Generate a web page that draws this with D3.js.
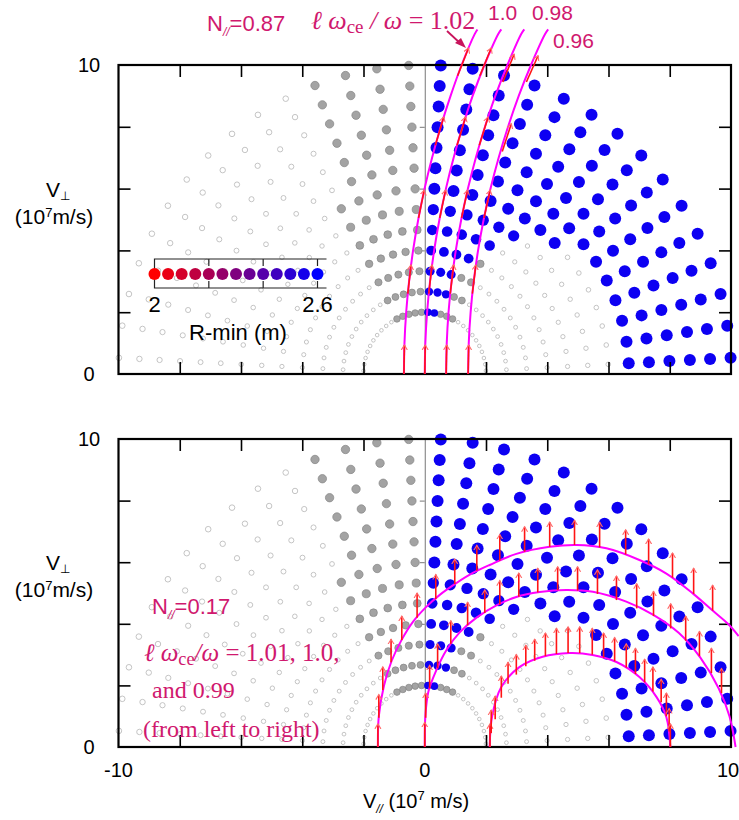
<!DOCTYPE html>
<html>
<head>
<meta charset="utf-8">
<script src="https://cdn.jsdelivr.net/npm/d3@7"></script>
<style>
  body { margin: 0; background: #fff; }
  svg { display: block; }
  text { font-family: "Liberation Sans", Arial, sans-serif; }
  .serif { font-family: "Liberation Serif", "Times New Roman", serif; }
</style>
</head>
<body>
<svg id="chart" width="739" height="820"></svg>
<script>
// ---- data ----
// velocity grid: speed rings and pitch angles (deg)
const radii = [2, 2.67, 3.33, 4, 4.67, 5.33, 6, 6.67, 7.33, 8, 8.67, 9.33, 10];
const pitchAngles = [3, 9, 15, 21, 27, 33, 39, 45, 51, 57, 63, 69, 75, 81, 87,
                     93, 99, 105, 111, 117, 123, 129, 135, 141, 147, 153, 159, 165, 171, 177];
// for each ring: pitch-angle range drawn in blue (R-min ~2.6 m)
const blueRanges = [[81, 87], [75, 87], [75, 87], [69, 87], [63, 87], [57, 87], [45, 87],
                    [3, 87], [3, 87], [3, 87], [3, 87], [3, 87], [3, 87]];
// for each ring: pitch-angle ranges drawn as filled grey
const grayRanges = [
  [[63, 75], [93, 117]], [[63, 69], [93, 117]], [[63, 69], [93, 117]], [[63, 63], [93, 117]],
  [[93, 117]], [[93, 117]], [[93, 117]],
  [[93, 111]], [[93, 111]], [[93, 111]], [[93, 111]], [[93, 111]], [[93, 111]]
];
const bluePointRmin = 2.57;

const legendRmin = [2, 2.05, 2.1, 2.15, 2.2, 2.25, 2.3, 2.35, 2.4, 2.45, 2.5, 2.55, 2.6];
const legendTicks = [2.2, 2.4, 2.6];

const xTickVals = [-8, -6, -4, -2, 2, 4, 6, 8];
const yTickVals = [2, 4, 6, 8];
const xLabels = [-10, 0, 10];
const yLabels = [0, 10];

// top panel, N// = 0.87 : resonance curves [v//, vperp]
const topCurve102 = [[-0.680, 0], [-0.662, 1], [-0.606, 2], [-0.512, 3], [-0.381, 4], [-0.212, 5], [-0.006, 6],
                     [0.239, 7], [0.522, 8], [0.843, 9], [1.204, 10], [1.63, 11], [1.72, 11.15]];
const topCurve100 = [[0, 0], [0.019, 1], [0.077, 2], [0.173, 3], [0.307, 4], [0.480, 5], [0.692, 6],
                     [0.943, 7], [1.234, 8], [1.564, 9], [1.95, 10], [2.40, 11], [2.50, 11.15]];
const topCurve098 = [[0.699, 0], [0.718, 1], [0.777, 2], [0.876, 3], [1.014, 4], [1.192, 5], [1.410, 6],
                     [1.668, 7], [1.966, 8], [2.305, 9], [2.70, 10], [3.15, 11], [3.25, 11.15]];
const topCurve096 = [[1.417, 0], [1.437, 1], [1.498, 2], [1.599, 3], [1.741, 4], [1.924, 5], [2.148, 6],
                     [2.413, 7], [2.720, 8], [3.069, 9], [3.47, 10], [3.93, 11], [4.03, 11.15]];
// top panel arrows [v//0, vperp0, v//1, vperp1]
const topArrows = [
  [-0.680, 0, -0.664, 0.94], [-0.554, 2.6, -0.447, 3.53], [-0.203, 5.05, -0.017, 5.95], [0.347, 7.4, 0.620, 8.32], [1.073, 9.65, 1.43, 10.55],
  [0, 0, 0.017, 0.94], [0.130, 2.6, 0.239, 3.53], [0.490, 5.05, 0.681, 5.95], [1.055, 7.4, 1.335, 8.32], [1.800, 9.65, 2.17, 10.55],
  [0.699, 0, 0.716, 0.94], [0.832, 2.6, 0.944, 3.53], [1.202, 5.05, 1.398, 5.95], [1.782, 7.4, 2.070, 8.32], [2.548, 9.45, 2.92, 10.35],
  [1.417, 0, 1.435, 0.94], [1.554, 2.6, 1.669, 3.53], [1.934, 5.05, 2.136, 5.95], [2.531, 7.2, 2.827, 8.1], [3.319, 9.45, 3.70, 10.3]
];

// bottom panel, N// = 0.17 : resonance curves
const botCurve101 = [[-1.53, 0], [-1.50, 1.0], [-1.33, 2.0], [-1.08, 2.8], [-0.76, 3.47], [-0.38, 4.07], [0.05, 4.55],
                     [0.49, 4.94], [1.03, 5.32], [1.57, 5.65], [2.12, 5.91], [2.99, 6.27], [4.08, 6.5], [4.95, 6.56],
                     [5.93, 6.45], [7.01, 6.07], [7.89, 5.63], [8.76, 4.98], [9.41, 4.42], [9.9, 4.0], [10.25, 3.6]];
const botCurve100 = [[0, 0], [0.02, 1.0], [0.12, 1.8], [0.38, 2.5], [0.71, 3.15], [1.14, 3.72], [1.69, 4.2],
                     [2.34, 4.6], [2.99, 4.87], [3.75, 5.03], [4.62, 5.1], [5.49, 5.04], [6.58, 4.72], [7.45, 4.3],
                     [8.3, 3.7], [9.0, 2.9], [9.6, 1.9], [9.95, 1.0], [10.15, 0]];
const botCurve099 = [[2.12, 0], [2.2, 1.0], [2.5, 1.95], [3.1, 2.6], [3.85, 2.93], [4.73, 3.05], [5.48, 2.99],
                     [6.26, 2.76], [7.01, 2.27], [7.57, 1.62], [7.89, 0.97], [8.02, 0]];
// bottom panel arrows [v//, vperp base, vperp tip]
const botArrows = [
  [-1.53, 0, 0.75], [-1.50, 0.95, 1.7], [-1.37, 1.85, 2.6], [-1.10, 2.75, 3.5], [-0.75, 3.47, 4.25], [-0.25, 4.2, 5.0],
  [0.36, 4.8, 5.6], [0.98, 5.29, 6.1], [1.70, 5.72, 6.55], [2.45, 6.05, 6.9], [3.26, 6.34, 7.15], [4.08, 6.5, 7.3],
  [4.89, 6.56, 7.36], [5.71, 6.48, 7.3], [6.56, 6.25, 7.05], [7.31, 5.93, 6.75], [8.09, 5.5, 6.3], [8.78, 4.97, 5.8],
  [9.40, 4.43, 5.25],
  [0, 0, 0.8], [0.03, 0.95, 1.75], [0.16, 1.9, 2.65], [0.42, 2.55, 3.35], [0.85, 3.35, 4.1], [1.40, 3.95, 4.7],
  [1.96, 4.35, 5.1], [2.45, 4.62, 5.4], [3.07, 4.88, 5.65], [3.69, 5.02, 5.8], [4.34, 5.09, 5.85], [4.99, 5.08, 5.85],
  [5.64, 4.97, 5.75], [6.26, 4.77, 5.55], [6.92, 4.5, 5.3], [7.47, 4.25, 5.05], [8.03, 3.85, 4.65], [8.52, 3.45, 4.25],
  [8.97, 2.95, 3.75], [9.36, 2.4, 3.2], [9.69, 1.75, 2.55],
  [2.13, 0, 0.75], [2.17, 0.45, 1.2], [2.3, 0.9, 1.65], [2.5, 1.6, 2.3], [2.72, 2.05, 2.75], [2.99, 2.35, 3.0],
  [3.30, 2.62, 3.3], [3.59, 2.8, 3.5], [3.94, 2.95, 3.7], [4.30, 3.02, 3.85], [4.68, 3.05, 3.9], [5.06, 3.05, 3.9],
  [5.47, 3.0, 3.85], [5.84, 2.9, 3.7], [6.20, 2.78, 3.55], [6.58, 2.58, 3.35], [6.88, 2.37, 3.2], [7.18, 2.1, 2.85],
  [7.45, 1.8, 2.6], [7.72, 1.45, 2.2], [7.89, 1.0, 1.75], [7.98, 0.5, 1.25], [8.02, 0, 0.75]
];

// ---- drawing ----
const svg = d3.select('#chart');
const pink = '#d0186e';
const magenta = '#ff00ff';

const x = d3.scaleLinear().domain([-10, 10]).range([118.5, 731]);
const yTop = d3.scaleLinear().domain([0, 10]).range([374, 65]);
const yBot = d3.scaleLinear().domain([0, 10]).range([747, 439]);

const colorScale = d3.scaleLinear().domain([2, 2.6]).range(['#ff0000', '#0000ff']);
const blueR = d3.scaleLinear().domain([2, 6]).range([3.8, 6]).clamp(true);
const grayR = d3.scaleLinear().domain([2, 6]).range([3.3, 4.2]).clamp(true);
const openR = d3.scaleLinear().domain([2, 10]).range([1.8, 2.8]);

const defs = svg.append('defs');
defs.append('marker')
  .attr('id', 'head')
  .attr('viewBox', '-5 -5 10 10')
  .attr('refX', 0).attr('refY', 0)
  .attr('markerWidth', 10).attr('markerHeight', 10)
  .attr('markerUnits', 'userSpaceOnUse')
  .attr('orient', 'auto')
  .append('path')
  .attr('d', 'M-5,-3 L0,0 L-5,3')
  .attr('fill', 'none')
  .attr('stroke', '#ff6a6a')
  .attr('stroke-width', 1.1);

// grid points with their class
function classify(k, a) {
  const b = blueRanges[k];
  if (a >= b[0] && a <= b[1]) return 'blue';
  if (grayRanges[k].some(g => a >= g[0] && a <= g[1])) return 'gray';
  return 'open';
}
const gridPoints = [];
radii.forEach((r, k) => {
  pitchAngles.forEach(a => {
    const t = a * Math.PI / 180;
    gridPoints.push({ r: r, vpar: r * Math.cos(t), vperp: r * Math.sin(t), cls: classify(k, a) });
  });
});

function drawPanel(y, curves, arrowSegs) {
  const g = svg.append('g');

  // zero line with small ticks
  g.append('g')
    .attr('transform', `translate(${x(0)},0)`)
    .call(d3.axisLeft(y).tickValues(yTickVals).tickSize(5).tickSizeOuter(0).tickFormat(''))
    .call(a => a.selectAll('line, path').attr('stroke', '#777').attr('stroke-width', 1));

  // points
  g.append('g').selectAll('circle')
    .data(gridPoints.filter(d => d.cls === 'open'))
    .join('circle')
    .attr('cx', d => x(d.vpar)).attr('cy', d => y(d.vperp))
    .attr('r', d => openR(d.r))
    .attr('fill', '#fff').attr('stroke', '#bdbdbd').attr('stroke-width', 0.9);

  g.append('g').selectAll('circle')
    .data(gridPoints.filter(d => d.cls === 'gray'))
    .join('circle')
    .attr('cx', d => x(d.vpar)).attr('cy', d => y(d.vperp))
    .attr('r', d => grayR(d.r))
    .attr('fill', '#a3a3a3').attr('stroke', '#858585').attr('stroke-width', 0.7);

  g.append('g').selectAll('circle')
    .data(gridPoints.filter(d => d.cls === 'blue'))
    .join('circle')
    .attr('cx', d => x(d.vpar)).attr('cy', d => y(d.vperp))
    .attr('r', d => blueR(d.r))
    .attr('fill', colorScale(bluePointRmin));

  // frame + inward ticks
  g.append('rect')
    .attr('x', x(-10)).attr('y', y(10))
    .attr('width', x(10) - x(-10)).attr('height', y(0) - y(10))
    .attr('fill', 'none').attr('stroke', '#000').attr('stroke-width', 2.2);

  const tickStyle = a => {
    a.select('.domain').remove();
    a.selectAll('line').attr('stroke', '#000').attr('stroke-width', 1.6);
  };
  g.append('g').attr('transform', `translate(0,${y(0)})`)
    .call(d3.axisBottom(x).tickValues(xTickVals).tickSize(-12).tickFormat('')).call(tickStyle);
  g.append('g').attr('transform', `translate(0,${y(10)})`)
    .call(d3.axisTop(x).tickValues(xTickVals).tickSize(-12).tickFormat('')).call(tickStyle);
  g.append('g').attr('transform', `translate(${x(-10)},0)`)
    .call(d3.axisLeft(y).tickValues(yTickVals).tickSize(-12).tickFormat('')).call(tickStyle);
  g.append('g').attr('transform', `translate(${x(10)},0)`)
    .call(d3.axisRight(y).tickValues(yTickVals).tickSize(-12).tickFormat('')).call(tickStyle);

  // y tick labels
  g.selectAll('.ylab')
    .data(yLabels)
    .join('text')
    .attr('x', 89).attr('y', d => y(d) + 7)
    .attr('text-anchor', 'middle')
    .attr('font-size', 20)
    .text(d => d);

  // y title
  const yt = g.append('text').attr('x', 58).attr('y', y(0) - 177).attr('text-anchor', 'middle').attr('font-size', 21);
  yt.append('tspan').text('V');
  yt.append('tspan').attr('font-size', 12).attr('dy', 3).text('\u22A5');
  const yt2 = g.append('text').attr('x', 54).attr('y', y(0) - 150).attr('text-anchor', 'middle').attr('font-size', 21);
  yt2.append('tspan').text('(10');
  yt2.append('tspan').attr('font-size', 13).attr('dy', -7).text('7');
  yt2.append('tspan').attr('dy', 7).text('m/s)');

  // resonance curves
  const line = d3.line().x(d => x(d[0])).y(d => y(d[1])).curve(d3.curveCatmullRom);
  g.append('g').selectAll('path')
    .data(curves)
    .join('path')
    .attr('d', line)
    .attr('fill', 'none').attr('stroke', magenta).attr('stroke-width', 2);

  // arrows
  g.append('g').selectAll('line')
    .data(arrowSegs)
    .join('line')
    .attr('x1', d => x(d[0])).attr('y1', d => y(d[1]))
    .attr('x2', d => x(d[2])).attr('y2', d => y(d[3]))
    .attr('stroke', '#ff1414').attr('stroke-width', 1.6)
    .attr('marker-end', 'url(#head)');
  return g;
}

drawPanel(yTop, [topCurve102, topCurve100, topCurve098, topCurve096], topArrows);
drawPanel(yBot, [botCurve101, botCurve100, botCurve099],
  botArrows.map(d => [d[0], d[1], d[0], d[2]]));

// x tick labels & title (bottom panel)
svg.selectAll('.xlab')
  .data(xLabels)
  .join('text')
  .attr('x', d => x(d) - (d === 10 ? 3 : 0)).attr('y', 777)
  .attr('text-anchor', 'middle')
  .attr('font-size', 20)
  .text(d => d);

const xt = svg.append('text').attr('x', 416).attr('y', 808).attr('text-anchor', 'middle').attr('font-size', 20);
xt.append('tspan').text('V');
xt.append('tspan').attr('font-size', 12).attr('dy', 5).attr('font-style', 'italic').text('//');
xt.append('tspan').attr('dy', -5).text(' (10');
xt.append('tspan').attr('font-size', 13).attr('dy', -8).text('7');
xt.append('tspan').attr('dy', 8).text(' m/s)');

// legend
const lx = d3.scaleLinear().domain([2, 2.6]).range([154.5, 317.5]);
const lg = svg.append('g');
lg.append('path')
  .attr('d', `M${lx(2.6) + 9},259 H${lx(2)} V288 H${lx(2.6) + 9}`)
  .attr('fill', 'none').attr('stroke', '#222').attr('stroke-width', 1.2);
lg.selectAll('.lt')
  .data(legendTicks)
  .join('path')
  .attr('d', d => `M${lx(d)},259 v7 M${lx(d)},288 v-7`)
  .attr('stroke', '#222').attr('stroke-width', 1.2);
lg.selectAll('circle')
  .data(legendRmin)
  .join('circle')
  .attr('cx', d => lx(d)).attr('cy', 274)
  .attr('r', 6)
  .attr('fill', d => colorScale(d));
lg.append('text').attr('x', lx(2)).attr('y', 312).attr('text-anchor', 'middle').attr('font-size', 22).text('2');
lg.append('text').attr('x', lx(2.6)).attr('y', 312).attr('text-anchor', 'middle').attr('font-size', 22).text('2.6');
lg.append('text').attr('x', 238).attr('y', 340).attr('text-anchor', 'middle').attr('font-size', 22).text('R-min (m)');

// annotations
function nPar(xp, yp, val) {
  const t = svg.append('text').attr('x', xp).attr('y', yp).attr('font-size', 22).attr('fill', pink);
  t.append('tspan').text('N');
  t.append('tspan').attr('font-size', 12).attr('dy', 5).attr('font-style', 'italic').text('//');
  t.append('tspan').attr('dy', -5).text('=' + val);
}
function omegaRatio(xp, yp, size, slash, tail) {
  const t = svg.append('text').attr('class', 'serif').attr('x', xp).attr('y', yp).attr('font-size', size).attr('fill', pink);
  t.append('tspan').attr('font-style', 'italic').text('\u2113 \u03C9');
  t.append('tspan').attr('font-size', size * 0.73).attr('dy', 4).text('ce');
  t.append('tspan').attr('dy', -4).attr('font-style', 'italic').text(slash);
  t.append('tspan').text(tail);
}
nPar(207, 31, '0.87');
omegaRatio(311, 29, 26, ' / \u03C9', ' = 1.02');
svg.append('text').attr('x', 488).attr('y', 20).attr('font-size', 21).attr('fill', pink).text('1.0');
svg.append('text').attr('x', 532).attr('y', 20).attr('font-size', 21).attr('fill', pink).text('0.98');
svg.append('text').attr('x', 553).attr('y', 48).attr('font-size', 21).attr('fill', pink).text('0.96');
svg.append('line').attr('x1', 447).attr('y1', 31).attr('x2', 461).attr('y2', 44)
  .attr('stroke', '#c8145c').attr('stroke-width', 1.8);
svg.append('path').attr('d', 'M466,48 L455,43 L461,38 Z').attr('fill', '#c8145c');

nPar(152, 614, '0.17');
omegaRatio(144, 661, 25, '/\u03C9', ' = 1.01, 1.0,');
svg.append('text').attr('class', 'serif').attr('x', 152).attr('y', 698).attr('font-size', 24).attr('fill', pink).text('and 0.99');
svg.append('text').attr('class', 'serif').attr('x', 143).attr('y', 737).attr('font-size', 24).attr('fill', pink).text('(from left to right)');
</script>
</body>
</html>
